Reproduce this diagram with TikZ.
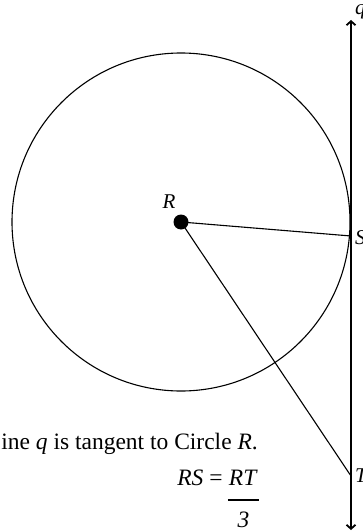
\documentclass[tikz,border=0pt]{standalone}
\usepackage{fontspec}
\setmainfont{Liberation Serif}
\usetikzlibrary{arrows.meta}
\begin{document}
\begin{tikzpicture}[x=1pt,y=-1pt,
  mybarb/.tip={Straight Barb[length=4pt,width=9pt]},
  thinline/.style={line width=1.1pt},
  tanline/.style={line width=1.8pt},
  lbl/.style={inner sep=0pt,font=\fontsize{21}{25}\selectfont\itshape},
  txt/.style={inner sep=0pt,font=\fontsize{23.5}{28}\selectfont}]
\useasboundingbox (0,0) rectangle (363,532);
\coordinate (R) at (181,222);
\coordinate (S) at (351,236);
\coordinate (T) at (351,476);
\coordinate (qtop) at (351,20);
\coordinate (qbot) at (351,530);
\draw[thinline] (R) circle (169pt);
\draw[tanline,mybarb-mybarb] (qtop) -- (qbot);
\draw[thinline] (R) -- (S);
\draw[thinline] (R) -- (T);
\fill (R) circle (7.5pt);
\node[lbl] (Rl) at (169,202) {R};
\node[lbl,anchor=west] (Sl) at (355,238) {S};
\node[lbl,anchor=west] (Tl) at (355,476) {T};
\node[lbl,anchor=west] (ql) at (355,12) {q};
\node[txt,anchor=base east] (line) at (258,449) {Line \textit{q} is tangent to Circle \textit{R}.};
\node[txt,anchor=base east] (num) at (258,485) {\textit{RT}};
\node[txt,anchor=base east] (lhs) at ([xshift=-6pt]num.base west) {\textit{RS} =};
\draw[line width=1.2pt] ([xshift=-1pt,yshift=-15pt]num.base west) -- ([xshift=1pt,yshift=-15pt]num.base east);
\node[txt,anchor=base] (den) at ([yshift=-42pt]num.base) {\textit{3}};
\end{tikzpicture}
\end{document}
